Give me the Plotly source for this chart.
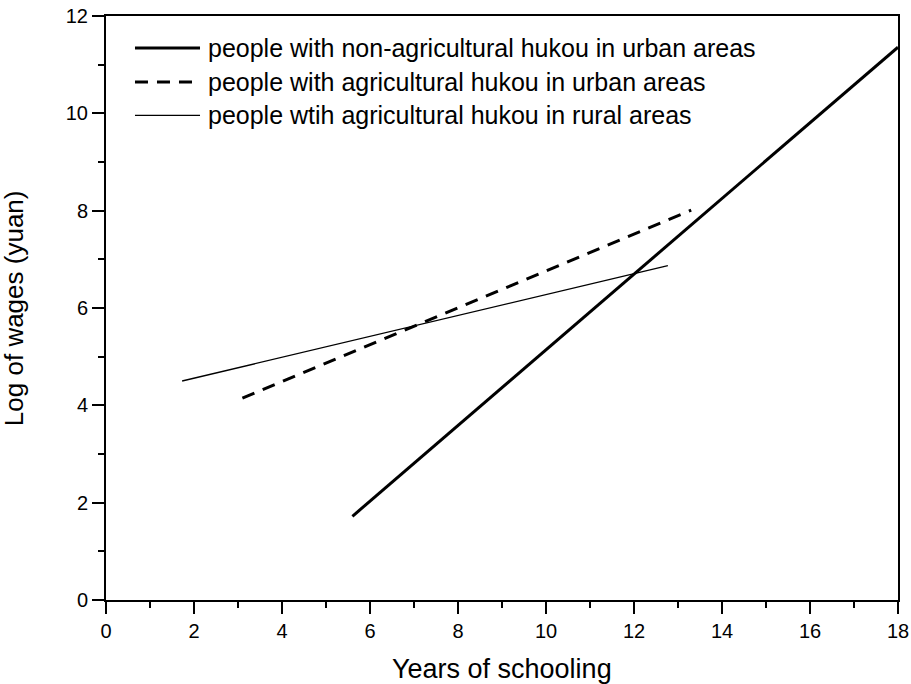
import plotly.graph_objects as go

# Data (endpoints of fitted lines)
names = [
    "people with non-agricultural hukou in urban areas",
    "people with agricultural hukou in urban areas",
    "people wtih agricultural hukou in rural areas",
]
x_nonagri_urban = [5.6, 18.0]
y_nonagri_urban = [1.72, 11.36]
x_agri_urban = [3.1, 13.3]
y_agri_urban = [4.15, 8.01]
x_agri_rural = [1.73, 12.77]
y_agri_rural = [4.5, 6.87]

x_title = "Years of schooling"
y_title = "Log of wages (yuan)"

FONT = "Liberation Sans, Arial, sans-serif"
DASH = "13px,9px"
styles = [
    dict(color="black", width=3),
    dict(color="black", width=3, dash=DASH),
    dict(color="black", width=1.3),
]

fig = go.Figure()
series = [(x_nonagri_urban, y_nonagri_urban), (x_agri_urban, y_agri_urban), (x_agri_rural, y_agri_rural)]
for (xs, ys), nm, st in zip(series, names, styles):
    fig.add_trace(go.Scatter(x=xs, y=ys, mode="lines", name=nm, line=st, showlegend=False))

# Custom legend (samples + labels) in paper coordinates
leg_y = [0.945, 0.887, 0.830]
for yy, nm, st in zip(leg_y, names, styles):
    fig.add_shape(type="line", xref="paper", yref="paper", x0=0.0366, x1=0.1187, y0=yy, y1=yy,
                  line=st)
    fig.add_annotation(xref="paper", yref="paper", x=0.126, y=yy, text=nm, showarrow=False,
                       xanchor="left", yanchor="middle",
                       font=dict(family=FONT, size=25, color="black"))

axis_common = dict(
    showgrid=False, zeroline=False, showline=True, linecolor="black", linewidth=2,
    mirror=True, ticks="outside", ticklen=12, tickwidth=2, tickcolor="black",
    tickfont=dict(family=FONT, size=20, color="black"), automargin=False,
)
fig.update_xaxes(range=[0, 18], dtick=2, tick0=0,
                 minor=dict(dtick=1, ticks="outside", ticklen=6, tickwidth=2, tickcolor="black"),
                 **axis_common)
fig.update_yaxes(range=[0, 12], dtick=2, tick0=0,
                 minor=dict(dtick=1, ticks="outside", ticklen=6, tickwidth=2, tickcolor="black"),
                 **axis_common)

# Axis titles
fig.add_annotation(xref="paper", yref="paper", x=0.5, y=-0.118, yanchor="middle", text=x_title,
                   showarrow=False, font=dict(family=FONT, size=27, color="black"))
fig.add_annotation(xref="paper", yref="paper", x=-0.116, y=0.5, xanchor="center", text=y_title,
                   textangle=-90, showarrow=False, font=dict(family=FONT, size=26, color="black"))

fig.update_layout(
    width=911, height=684,
    margin=dict(l=106, r=13, t=16, b=84),
    plot_bgcolor="white", paper_bgcolor="white",
    font=dict(family=FONT, color="black"),
    showlegend=False,
)

fig.write_html("out.html", config={"displayModeBar": False},
               post_script="document.body.style.margin='0';document.body.style.padding='0';")
